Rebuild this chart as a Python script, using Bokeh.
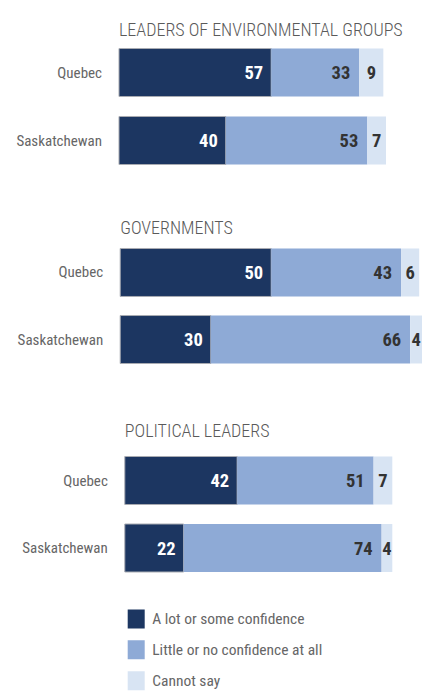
from bokeh.plotting import figure
from bokeh.models import Range1d
from bokeh.layouts import column
from bokeh.embed import file_html
from bokeh.resources import INLINE
from bokeh.core.properties import value

# ---- data ----
section_titles = ["LEADERS OF ENVIRONMENTAL GROUPS", "GOVERNMENTS", "POLITICAL LEADERS"]
provinces = ["Quebec", "Saskatchewan"]
series_names = ["A lot or some confidence", "Little or no confidence at all", "Cannot say"]

env_lot = [57, 40]
env_little = [33, 53]
env_cannot = [9, 7]

gov_lot = [50, 30]
gov_little = [43, 66]
gov_cannot = [6, 4]

pol_lot = [42, 22]
pol_little = [51, 74]
pol_cannot = [7, 4]

# ---- style ----
FONT = value("Roboto Condensed")
FONT_T = value("Roboto Condensed Light")
colors = ["#1c3661", "#8eaad6", "#d8e4f3"]
W = 422

layouts = [
    dict(h=198, xr=(-44.38, 113.67), yr=(1.853, -1.059), bar_h=0.706, tdy=-43),
    dict(h=190, xr=(-39.64, 100.10), yr=(1.731, -1.104), bar_h=0.716, tdy=-45),
    dict(h=200, xr=(-46.47, 111.29), yr=(1.600, -1.363), bar_h=0.711, tdy=-50),
]
data = [
    (env_lot, env_little, env_cannot),
    (gov_lot, gov_little, gov_cannot),
    (pol_lot, pol_little, pol_cannot),
]


def make_fig(h, xr, yr):
    p = figure(width=W, height=h, x_range=Range1d(*xr), y_range=Range1d(*yr),
               output_backend="svg", toolbar_location=None, min_border=0,
               x_axis_location=None, y_axis_location=None)
    p.grid.visible = False
    p.outline_line_color = None
    p.background_fill_color = "white"
    p.border_fill_color = "white"
    return p


figs = []
for title, vals, lay in zip(section_titles, data, layouts):
    p = make_fig(lay["h"], lay["xr"], lay["yr"])
    ys = list(range(len(provinces)))
    left = [0] * len(ys)
    for k, (v, c) in enumerate(zip(vals, colors)):
        right = [a + b for a, b in zip(left, v)]
        p.hbar(y=ys, left=left, right=right, height=lay["bar_h"], fill_color=c,
               line_color="#a8abb2" if k == 0 else None, line_width=1)
        labels = [str(x) for x in v]
        if k == 0:
            p.text(x=right, y=ys, text=labels, x_offset=-8, text_align="right",
                   text_baseline="middle", text_font=FONT, text_font_style="bold",
                   text_font_size="18.5px", text_color="white")
        elif k == 1:
            p.text(x=right, y=ys, text=labels, x_offset=-9, text_align="right",
                   text_baseline="middle", text_font=FONT, text_font_style="bold",
                   text_font_size="18.5px", text_color="#333333")
        else:
            mids = [(a + b) / 2 for a, b in zip(left, right)]
            p.text(x=mids, y=ys, text=labels, text_align="center",
                   text_baseline="middle", text_font=FONT, text_font_style="bold",
                   text_font_size="18.5px", text_color="#333333")
        left = right
    p.text(x=[0] * len(ys), y=ys, text=provinces, x_offset=-17, text_align="right",
           text_baseline="middle", text_font=FONT, text_font_size="15px",
           text_color="#666666")
    p.text(x=[0], y=[0], text=[title], y_offset=lay["tdy"], text_align="left",
           text_baseline="alphabetic", text_font=FONT_T, text_font_size="18px",
           text_color="#5a5a5a")
    figs.append(p)

# legend
lg = make_fig(104, (-135.7, 286.3), (2.383, -0.989))
ly = list(range(len(series_names)))
lg.rect(x=[0] * len(ly), y=ly, width=17, height=19, width_units="screen",
        height_units="screen", fill_color=colors, line_color=None)
lg.text(x=[0] * len(ly), y=ly, text=series_names, x_offset=16, text_align="left",
        text_baseline="middle", text_font=FONT, text_font_size="15.5px",
        text_color="#666666")
figs.append(lg)

layout = column(*figs, spacing=0)
open("out.html", "w").write(file_html(layout, INLINE))
